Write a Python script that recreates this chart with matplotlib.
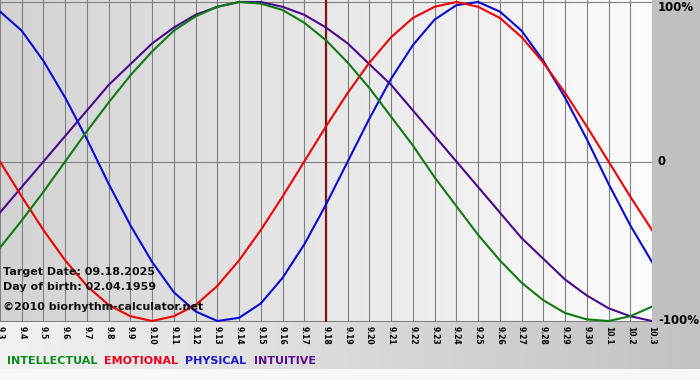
import matplotlib
matplotlib.use('Agg')
import matplotlib.pyplot as plt
import numpy as np
from matplotlib.colors import LinearSegmentedColormap
from matplotlib.patches import Rectangle

# ---- data ----
dates = ['9.3', '9.4', '9.5', '9.6', '9.7', '9.8', '9.9', '9.10', '9.11', '9.12',
         '9.13', '9.14', '9.15', '9.16', '9.17', '9.18', '9.19', '9.20', '9.21',
         '9.22', '9.23', '9.24', '9.25', '9.26', '9.27', '9.28', '9.29', '9.30',
         '10.1', '10.2', '10.3']

intellectual = [-0.54, -0.37, -0.19, 0.00, 0.19, 0.37, 0.54, 0.69, 0.82, 0.91,
                0.97, 1.00, 0.99, 0.95, 0.87, 0.76, 0.62, 0.46, 0.28, 0.10,
                -0.10, -0.28, -0.46, -0.62, -0.76, -0.87, -0.95, -0.99, -1.00,
                -0.97, -0.91]
emotional = [0.00, -0.22, -0.43, -0.62, -0.78, -0.90, -0.97, -1.00, -0.97, -0.90,
             -0.78, -0.62, -0.43, -0.22, 0.00, 0.22, 0.43, 0.62, 0.78, 0.90,
             0.97, 1.00, 0.97, 0.90, 0.78, 0.62, 0.43, 0.22, 0.00, -0.22, -0.43]
physical = [0.94, 0.82, 0.63, 0.40, 0.14, -0.14, -0.40, -0.63, -0.82, -0.94,
            -1.00, -0.98, -0.89, -0.73, -0.52, -0.27, 0.00, 0.27, 0.52, 0.73,
            0.89, 0.98, 1.00, 0.94, 0.82, 0.63, 0.40, 0.14, -0.14, -0.40, -0.63]
intuitive = [-0.32, -0.16, 0.00, 0.16, 0.32, 0.48, 0.61, 0.74, 0.84, 0.92,
             0.97, 1.00, 1.00, 0.97, 0.92, 0.84, 0.74, 0.61, 0.48, 0.32,
             0.16, 0.00, -0.16, -0.32, -0.48, -0.61, -0.74, -0.84, -0.92,
             -0.97, -1.00]

series_names = ['INTELLECTUAL', 'EMOTIONAL', 'PHYSICAL', 'INTUITIVE']
line_colors = ['#127a12', '#ee0000', '#0a0ad8', '#4a0a8c']
legend_colors = ['#0a8a1e', '#e8001c', '#1818d0', '#5a1090']

target = '9.18'
info_lines = ['Target Date: 09.18.2025', 'Day of birth: 02.04.1959',
              '\u00a92010 biorhythm-calculator.net']
y_ticks = [1, 0, -1]
y_labels = ['100%', '0', '-100%']

# ---- figure ----
W, H = 700, 380
fig = plt.figure(figsize=(W / 100, H / 100), dpi=100, facecolor='#c0c0c0')

# bottom gradient band and bottom strip
band = fig.add_axes([0, 11 / H, 1, 47 / H])
band.imshow(np.linspace(0, 1, 256)[None, :], aspect='auto',
            cmap=LinearSegmentedColormap.from_list('b', ['#f2f2f2', '#c2c2c2']),
            extent=[0, 1, 0, 1])
band.axis('off')
fig.patches.append(Rectangle((0, 0), 1, 11 / H, transform=fig.transFigure,
                             facecolor='#f7f7f7', edgecolor='none', zorder=-1))

# main plot
ax = fig.add_axes([0, 58 / H, 652 / W, 322 / H])
x = np.arange(len(dates))
ylo, yhi = -1 - 1 / 159.5, 1 + 2 / 159.5
ax.imshow(np.linspace(0, 1, 256)[None, :], aspect='auto', zorder=0,
          cmap=LinearSegmentedColormap.from_list('g', ['#d3d3d3', '#fcfcfc']),
          extent=[x[0], x[-1], ylo, yhi])

for xi in x:
    ax.axvline(xi, color='#808080', lw=0.8, zorder=1)
for yv in y_ticks:
    ax.axhline(yv, color='#808080', lw=0.8, zorder=1)

ax.axvline(dates.index(target), color='#801515', lw=1.6, zorder=2)

for vals, c in zip([intuitive, physical, emotional, intellectual],
                   [line_colors[3], line_colors[2], line_colors[1], line_colors[0]]):
    ax.plot(x, vals, color=c, lw=1.5, zorder=3, solid_joinstyle='round')

ax.set_xlim(x[0], x[-1])
ax.set_ylim(ylo, yhi)
ax.set_xticks(x)
ax.set_xticklabels(dates, rotation=270, fontsize=5.5, fontweight='bold')
ax.tick_params(axis='x', length=0, pad=3)
ax.set_yticks([])
for s in ax.spines.values():
    s.set_visible(False)

for v, lbl in zip(y_ticks, y_labels):
    ax.annotate(lbl, xy=(1, v), xycoords=ax.get_yaxis_transform(),
                xytext=(6, -5 if v > 0 else 0), textcoords='offset pixels',
                ha='left', va='center', fontsize=8.5, fontweight='bold',
                annotation_clip=False)

# info text
for t, yy in zip(info_lines, [272, 287, 307]):
    fig.text(3 / W, 1 - yy / H, t, fontsize=8, fontweight='bold',
             va='center', ha='left', color='#111111', zorder=5)

# legend words, chained left to right
renderer = fig.canvas.get_renderer()
xpos = 7
for name, c in zip(series_names, legend_colors):
    t = fig.text(xpos / W, 1 - 361.5 / H, name, color=c, fontsize=8,
                 fontweight='bold', va='center', ha='left')
    bb = t.get_window_extent(renderer=renderer)
    xpos = bb.x1 + 7

fig.savefig('out.png', dpi=100, facecolor=fig.get_facecolor())
